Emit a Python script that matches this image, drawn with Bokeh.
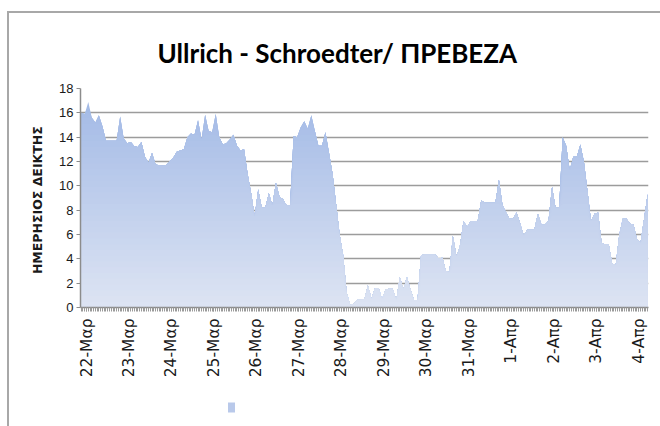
import math
import numpy as np
from bokeh.plotting import figure
from bokeh.models import FixedTicker, Range1d, LinearAxis
from bokeh.embed import file_html
from bokeh.resources import INLINE

TITLE = "Ullrich - Schroedter/ ΠΡΕΒΕΖΑ"
Y_LABEL = "ΗΜΕΡΗΣΙΟΣ  ΔΕΙΚΤΗΣ"
SERIES_NAME = "ΗΜΕΡ. ΔΕΙΚΤΗΣ"

day_labels = ["22-Μαρ", "23-Μαρ", "24-Μαρ", "25-Μαρ", "26-Μαρ", "27-Μαρ", "28-Μαρ",
              "29-Μαρ", "30-Μαρ", "31-Μαρ", "1-Απρ", "2-Απρ", "3-Απρ", "4-Απρ"]
day_hours = [0, 24, 48, 72, 96, 120, 144, 168, 192, 216, 240, 264, 288, 312]
y_ticks = [0, 2, 4, 6, 8, 10, 12, 14, 16, 18]

# sample hours (relative to 22-Mar 00:00), every 2 hours
hours = list(range(-3, 318, 2))

v_pre = [16.0, 15.9]
v_22 = [16.9, 15.6, 15.2, 15.8, 14.9, 13.7, 13.7, 13.7, 13.7, 15.7, 13.9, 13.5]
v_23 = [13.6, 13.25, 13.2, 13.6, 12.4, 11.9, 12.7, 11.75, 11.7, 11.65, 11.7, 12.0]
v_24 = [12.3, 12.8, 12.9, 13.0, 14.0, 14.3, 14.2, 15.4, 13.8, 15.85, 14.5, 14.4]
v_25 = [15.9, 14.0, 13.4, 13.5, 13.8, 14.2, 13.3, 12.9, 13.0, 11.0, 9.4, 7.5]
v_26 = [9.7, 8.2, 8.2, 9.4, 8.4, 10.25, 9.1, 8.9, 8.4, 8.4, 14.1, 14.0]
v_27 = [14.8, 15.3, 14.7, 15.8, 14.5, 13.3, 13.3, 14.4, 12.7, 11.0, 8.5, 6.0]
v_28 = [4.3, 1.2, 0.2, 0.3, 0.63, 0.63, 0.7, 1.8, 0.7, 1.6, 1.6, 0.7]
v_29 = [1.5, 1.55, 1.55, 0.6, 2.5, 1.5, 2.5, 1.5, 0.6, 0.6, 4.3, 4.35]
v_30 = [4.35, 4.35, 4.35, 4.0, 4.1, 3.0, 2.9, 5.9, 4.2, 5.1, 7.1, 6.6]
v_31 = [7.1, 7.1, 7.1, 8.8, 8.6, 8.6, 8.6, 8.6, 10.5, 8.4, 7.8, 7.3]
v_01 = [7.3, 7.8, 6.9, 5.9, 6.4, 6.4, 6.4, 7.7, 6.8, 6.8, 7.1, 9.9]
v_02 = [8.2, 8.2, 14.0, 13.3, 11.3, 12.4, 12.4, 13.4, 12.0, 9.6, 7.1, 7.7]
v_03 = [7.8, 5.3, 5.2, 5.2, 3.6, 3.5, 6.0, 7.3, 7.3, 6.9, 6.8, 5.6]
v_04 = [5.3, 7.3, 9.3]

values = (v_pre + v_22 + v_23 + v_24 + v_25 + v_26 + v_27 + v_28 + v_29 + v_30
          + v_31 + v_01 + v_02 + v_03 + v_04)

x = np.array(hours, dtype=float)
v = np.array(values, dtype=float)

X0, X1 = -3.4, 317.5
FRAME_W, FRAME_H = 568, 219

p = figure(width=651, height=413, frame_width=FRAME_W, frame_height=FRAME_H,
           output_backend="svg", toolbar_location=None,
           x_range=Range1d(X0, X1), y_range=Range1d(0, 18),
           min_border_left=71, min_border_right=12, min_border_top=75,
           min_border_bottom=119)
# chart-area frame lines (left and top edges of the chart box)
p.styles = {"margin-left": "7px", "margin-top": "11px",
            "border-left": "2px solid #a8a8a8", "border-top": "2px solid #a8a8a8"}
p.outline_line_color = None
p.background_fill_color = "white"

# vertical gradient emulated by nested bands (drawn top colour first)
top_rgb = np.array([163, 186, 230])
bot_rgb = np.array([221, 228, 243])
n_bands = 36
vmax = 17.0
for k in range(n_bands, 0, -1):
    hi = vmax * k / n_bands
    t = (k - 0.5) / n_bands
    c = bot_rgb + (top_rgb - bot_rgb) * t
    col = "#%02x%02x%02x" % tuple(int(round(q)) for q in c)
    p.varea(x=x, y1=np.zeros_like(v), y2=np.minimum(v, hi), fill_color=col,
            fill_alpha=1.0)

# axes
p.xgrid.visible = False
p.ygrid.grid_line_color = "#9c9c9c"
p.ygrid.grid_line_width = 1.5
p.ygrid.ticker = FixedTicker(ticks=y_ticks)

p.yaxis.ticker = FixedTicker(ticks=y_ticks)
p.yaxis.axis_line_color = "#8c8c8c"
p.yaxis.axis_line_width = 1.5
p.yaxis.major_tick_line_color = "#8c8c8c"
p.yaxis.major_tick_out = 4
p.yaxis.major_tick_in = 0
p.yaxis.minor_tick_line_color = None
p.yaxis.major_label_text_font = "Liberation Sans"
p.yaxis.major_label_text_font_size = "13px"
p.yaxis.major_label_text_color = "#1a1a1a"
p.yaxis.major_label_standoff = 3
p.yaxis.axis_label = Y_LABEL
p.yaxis.axis_label_text_font = "DejaVu Sans"
p.yaxis.axis_label_text_font_size = "12.5px"
p.yaxis.axis_label_text_font_style = "bold"
p.yaxis.axis_label_text_color = "#1a1a1a"
p.yaxis.axis_label_standoff = 11

p.xaxis.ticker = FixedTicker(ticks=day_hours, minor_ticks=list(range(-3, 318)))
p.xaxis.major_label_overrides = {h: lab for h, lab in zip(day_hours, day_labels)}
p.xaxis.major_label_orientation = math.pi / 2
p.xaxis.axis_line_color = "#8c8c8c"
p.xaxis.axis_line_width = 1.5
p.xaxis.major_tick_line_color = "#9a9a9a"
p.xaxis.minor_tick_line_color = "#9a9a9a"
p.xaxis.major_tick_out = 4
p.xaxis.major_tick_in = 0
p.xaxis.minor_tick_out = 4
p.xaxis.minor_tick_in = 0
p.xaxis.major_label_text_font = "DejaVu Sans"
p.xaxis.major_label_text_font_size = "15.5px"
p.xaxis.major_label_text_color = "#1a1a1a"
p.xaxis.major_label_standoff = 7

# title
p.title.text = TITLE
p.title.text_font = "Lato"
p.title.text_font_size = "26px"
p.title.text_font_style = "bold"
p.title.text_color = "#000000"
p.title.align = "left"
p.title.offset = 77
p.title.standoff = 40

# legend, built as an extra bottom axis: the label is a tick label and the
# colour swatch is a thick minor tick (pixel offsets from the frame's left edge)
def px_to_x(px):
    return X0 + px * (X1 - X0) / FRAME_W

legend_text_px = 205    # centre of legend text
legend_swatch_px = 151  # centre of legend swatch
lx = px_to_x(legend_text_px)
sx = px_to_x(legend_swatch_px)

leg_axis = LinearAxis(ticker=FixedTicker(ticks=[lx], minor_ticks=[sx]),
                      major_label_overrides={lx: SERIES_NAME})
leg_axis.axis_line_color = None
leg_axis.major_tick_line_color = None
leg_axis.major_tick_in = 0
leg_axis.major_tick_out = 0
leg_axis.major_label_standoff = 22
leg_axis.major_label_text_font = "Liberation Sans"
leg_axis.major_label_text_font_size = "12px"
leg_axis.major_label_text_color = "#262626"
leg_axis.minor_tick_line_color = "#b9c9ea"
leg_axis.minor_tick_line_width = 7
leg_axis.minor_tick_in = -22
leg_axis.minor_tick_out = 32
p.add_layout(leg_axis, "below")

open("out.html", "w").write(file_html(p, INLINE))
